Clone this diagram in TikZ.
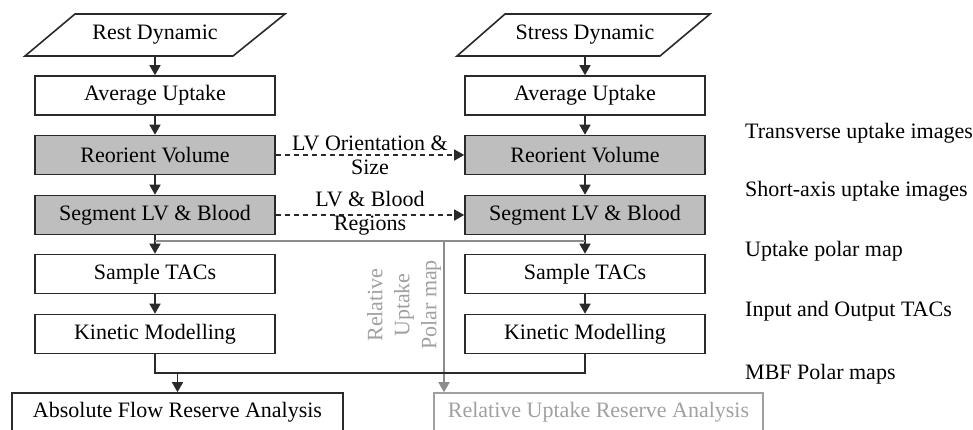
\documentclass[tikz,border=0pt]{standalone}
\usepackage{fontspec}
\setmainfont{Liberation Serif}
\usetikzlibrary{arrows.meta}
\definecolor{boxgray}{HTML}{BEBEBE}
\definecolor{linegray}{HTML}{8C8C8C}
\definecolor{textgray}{HTML}{A0A0A0}
\definecolor{edge}{HTML}{2A2A2A}
\begin{document}
\begin{tikzpicture}[x=1pt,y=-1pt,
  every node/.style={font=\fontsize{22}{24}\selectfont},
  procbox/.style={draw=edge,line width=1.6pt,minimum width=240pt,minimum height=39pt,inner sep=0pt},
  shadebox/.style={procbox,fill=boxgray},
  flow/.style={line width=1.5pt,draw=edge,-{Triangle[length=10pt,width=11pt]}},
  plainline/.style={line width=1.5pt,draw=edge},
  grayflow/.style={line width=1.5pt,draw=linegray,-{Triangle[length=10pt,width=11pt]}},
  dashflow/.style={line width=1.5pt,draw=edge,dash pattern=on 5pt off 4pt,-{Triangle[length=10pt,width=11pt]}},
  note/.style={anchor=west,inner sep=0pt,font=\fontsize{22}{24}\selectfont}]
\useasboundingbox (0,0) rectangle (973,429);
% input parallelograms
\draw[edge,line width=1.6pt,fill=white] (25,56) -- (75,14) -- (285,14) -- (233,56) -- cycle;
\node[minimum height=42pt,inner sep=0pt] (restd) at (155,35) {Rest Dynamic};
\draw[edge,line width=1.6pt,fill=white] (457,56) -- (505,14) -- (710,14) -- (660,56) -- cycle;
\node[minimum height=42pt,inner sep=0pt] (stressd) at (585,35) {Stress Dynamic};
% left column
\node[procbox] (avgL) at (155,95.5) {Average Uptake};
\node[shadebox] (reoL) at (155,155) {Reorient Volume};
\node[shadebox] (segL) at (155,215) {Segment LV \& Blood};
\node[procbox] (samL) at (155,274) {Sample TACs};
\node[procbox] (kinL) at (155,334) {Kinetic Modelling};
% right column
\node[procbox] (avgR) at (585,95.5) {Average Uptake};
\node[shadebox] (reoR) at (585,155) {Reorient Volume};
\node[shadebox] (segR) at (585,215) {Segment LV \& Blood};
\node[procbox] (samR) at (585,274) {Sample TACs};
\node[procbox] (kinR) at (585,334) {Kinetic Modelling};
% bottom boxes
\node[draw=edge,line width=1.6pt,minimum width=331pt,minimum height=38pt,inner sep=0pt] (absf) at (177.5,412) {Absolute Flow Reserve Analysis};
\node[draw=textgray,line width=1.6pt,minimum width=329pt,minimum height=38pt,inner sep=0pt,text=textgray] (relu) at (598.5,412) {Relative Uptake Reserve Analysis};
% vertical flows
\draw[flow] (restd.south) -- (avgL.north);
\draw[flow] (avgL.south) -- (reoL.north);
\draw[flow] (reoL.south) -- (segL.north);
\draw[flow] (segL.south) -- (samL.north);
\draw[flow] (samL.south) -- (kinL.north);
\draw[flow] (stressd.south) -- (avgR.north);
\draw[flow] (avgR.south) -- (reoR.north);
\draw[flow] (reoR.south) -- (segR.north);
\draw[flow] (segR.south) -- (samR.north);
\draw[flow] (samR.south) -- (kinR.north);
% dashed transfers
\draw[dashflow] (reoL.east) -- node[align=center,inner sep=0pt,font=\fontsize{22}{24}\selectfont] {LV Orientation \&\\Size} (reoR.west);
\draw[dashflow] (segL.east) -- node[align=center,inner sep=0pt,font=\fontsize{22}{24}\selectfont,yshift=2pt] {LV \& Blood\\Regions} (segR.west);
% gray relative uptake path
\coordinate (gL) at (155,241);
\coordinate (gR) at (585,241);
\coordinate (gD) at (444,241);
\draw[line width=1.3pt,draw=linegray] (gL) -- (gR);
\draw[grayflow] (gD) -- (gD |- relu.north);
\node[rotate=90,align=center,text=textgray,font=\fontsize{22}{27}\selectfont,inner sep=0pt] (rlab) at (404,305) {Relative\\Uptake\\Polar map};
% kinetic merge
\coordinate (kj) at (155,373);
\draw[plainline] (kinL.south) -- (kj) -| (kinR.south);
\draw[flow] (absf.north |- kj) -- (absf.north);
% annotations
\node[note] (n1) at (745,133) {Transverse uptake images};
\node[note] (n2) at (745,191) {Short-axis uptake images};
\node[note] (n3) at (745,251) {Uptake polar map};
\node[note] (n4) at (745,311) {Input and Output TACs};
\node[note] (n5) at (745,374) {MBF Polar maps};
\end{tikzpicture}
\end{document}
